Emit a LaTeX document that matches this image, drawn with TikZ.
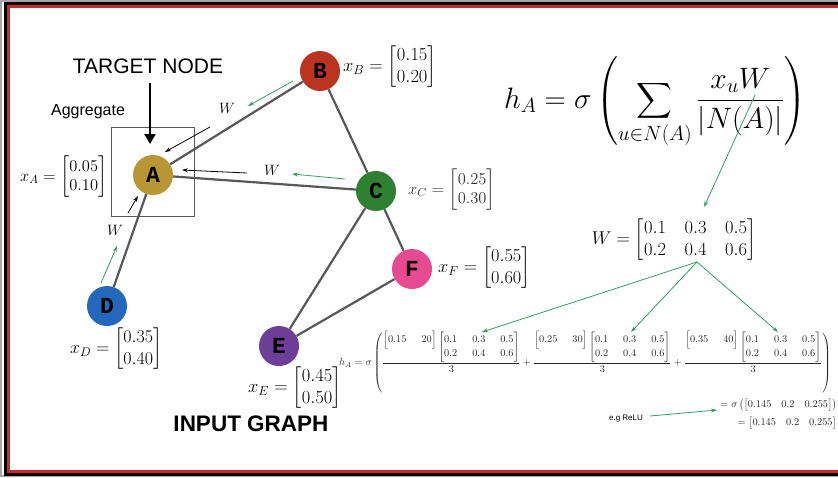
\IfFileExists{fix-cm.sty}{\RequirePackage{fix-cm}}{}
\documentclass[tikz,border=0pt]{standalone}
\usepackage{amsmath}
\usepackage{fontspec}
\newfontfamily\lsans{Liberation Sans}
\newfontfamily\lmono{Liberation Mono}
\usetikzlibrary{arrows.meta}
\definecolor{nA}{RGB}{184,150,52}
\definecolor{nB}{RGB}{186,52,32}
\definecolor{nC}{RGB}{48,128,52}
\definecolor{nD}{RGB}{36,104,190}
\definecolor{nE}{RGB}{108,62,152}
\definecolor{nF}{RGB}{232,74,146}
\definecolor{grn}{RGB}{52,160,100}
\definecolor{edg}{RGB}{88,88,88}
\definecolor{frred}{RGB}{205,40,40}
\begin{document}
\begin{tikzpicture}[x=1pt,y=-1pt,
  gnode/.style={circle,minimum size=40pt,inner sep=0pt,font=\lmono\bfseries\fontsize{23}{23}\selectfont},
  gedge/.style={draw=edg,line width=2.2pt},
  garrow/.style={draw=grn,line width=0.8pt,-{Stealth[length=6pt,width=4pt]}},
  barrow/.style={draw=black,line width=0.8pt,-{Stealth[length=6pt,width=4pt]}},
  lab/.style={inner sep=0pt,anchor=west},
  wlab/.style={inner sep=0pt,font=\fontsize{15}{18}\selectfont},
  eqsmall/.style={inner sep=0pt,text=black!85,font=\fontsize{10.3}{12.4}\selectfont},
]
\useasboundingbox (0,0) rectangle (838,477);
\fill[white] (0,0) rectangle (838,477);
% frame
\begin{scope}
\clip (0,0) rectangle (838,477);
\draw[black!35,line width=2pt] (1,1) rectangle (900,476);
\draw[black,line width=3pt] (5.5,3.5) rectangle (900,474.5);
\draw[frred,line width=2.5pt] (8.5,6.5) rectangle (900,471.5);
\end{scope}

% graph nodes
\node[gnode,fill=nA] (A) at (153,175) {A};
\node[gnode,fill=nB] (B) at (320,71) {B};
\node[gnode,fill=nC] (C) at (376,191) {C};
\node[gnode,fill=nD] (D) at (107,306) {D};
\node[gnode,fill=nE] (E) at (279,346) {E};
\node[gnode,fill=nF] (F) at (412,269) {F};

\draw[gedge] (A) -- (B);
\draw[gedge] (A) -- (C);
\draw[gedge] (A) -- (D);
\draw[gedge] (B) -- (C);
\draw[gedge] (C) -- (E);
\draw[gedge] (C) -- (F);
\draw[gedge] (E) -- (F);

% aggregate box
\node[draw=edg,line width=1pt,minimum width=83pt,minimum height=89pt,inner sep=0pt] (box) at (152.5,171.5) {};
\node[inner sep=0pt,font=\lsans\fontsize{16}{18}\selectfont] (agg) at (88,112) {Aggregate};
\node[inner sep=0pt,font=\lsans\fontsize{21}{24}\selectfont] (tn) at (148,66) {TARGET NODE};
\coordinate (tnS) at (150,83);
\coordinate (tnE) at (150,144);
\draw[black,line width=2.5pt,-{Triangle[length=10pt,width=11pt]}] (tnS) -- (tnE);

% black arrows into A
\coordinate (b1s) at (210,127); \coordinate (b1e) at (165,152);
\coordinate (b2s) at (247,173); \coordinate (b2e) at (182,170);
\coordinate (b3s) at (128,213); \coordinate (b3e) at (138,196);
\draw[barrow] (b1s) -- (b1e);
\draw[barrow] (b2s) -- (b2e);
\draw[barrow] (b3s) -- (b3e);
\node[wlab] (w1) at (227,108) {$W$};
\node[wlab] (w2) at (272,170) {$W$};
\node[wlab] (w3) at (115,230) {$W$};

% green arrows
\coordinate (g1s) at (293,81); \coordinate (g1e) at (248,106);
\coordinate (g2s) at (345,179); \coordinate (g2e) at (292,174);
\coordinate (g3s) at (101,283); \coordinate (g3e) at (117,246);
\draw[garrow] (g1s) -- (g1e);
\draw[garrow] (g2s) -- (g2e);
\draw[garrow] (g3s) -- (g3e);

% feature labels
\node[lab,font=\fontsize{16.5}{19.8}\selectfont] (xA) at (20,177) {$x_A = \begin{bmatrix}0.05\\0.10\end{bmatrix}$};
\node[lab,font=\fontsize{18.5}{22.2}\selectfont] (xB) at (343,67) {$x_B = \begin{bmatrix}0.15\\0.20\end{bmatrix}$};
\node[lab,text=black!80,font=\fontsize{16.5}{19.8}\selectfont] (xC) at (408,190) {$x_C = \begin{bmatrix}0.25\\0.30\end{bmatrix}$};
\node[lab,font=\fontsize{18.3}{22}\selectfont] (xF) at (438,268) {$x_F = \begin{bmatrix}0.55\\0.60\end{bmatrix}$};
\node[lab,font=\fontsize{18}{21.6}\selectfont] (xD) at (70,349) {$x_D = \begin{bmatrix}0.35\\0.40\end{bmatrix}$};
\node[lab,font=\fontsize{18.5}{22.2}\selectfont] (xE) at (248,388) {$x_E = \begin{bmatrix}0.45\\0.50\end{bmatrix}$};

\node[inner sep=0pt,font=\lsans\bfseries\fontsize{22.5}{26}\selectfont] (ig) at (251,424) {INPUT GRAPH};

% main formula
\node[inner sep=0pt,font=\fontsize{29.5}{35}\selectfont] (hA) at (655,102)
  {$\displaystyle h_A = \sigma\left(\sum_{u\in N(A)}\frac{x_uW}{|N(A)|}\right)$};
\node[inner sep=0pt,font=\fontsize{18.5}{22.2}\selectfont] (Wm) at (674,240)
  {\setlength{\arraycolsep}{0.5em}$W = \begin{bmatrix}0.1 & 0.3 & 0.5\\ 0.2 & 0.4 & 0.6\end{bmatrix}$};
\coordinate (fW) at (755,95);
\coordinate (WmT) at (704,207);
\draw[garrow] (fW) -- (WmT);

% bottom equation
\newcommand{\wmat}{\begin{bmatrix}0.1 & 0.3 & 0.5\\ 0.2 & 0.4 & 0.6\end{bmatrix}}
\newcommand{\rv}[2]{\raisebox{7pt}{$\begin{bmatrix}#1 & #2\end{bmatrix}$}}
\node[eqsmall,anchor=west] (eq1) at (339,362)
  {\setlength{\arraycolsep}{7.5pt}\renewcommand{\arraystretch}{1.15}$h_A = \sigma\left(\dfrac{\rv{0.15}{20}\wmat}{3} + \dfrac{\rv{0.25}{30}\wmat}{3} + \dfrac{\rv{0.35}{40}\wmat}{3}\right)$};
\node[eqsmall,anchor=east] (eq2) at (837,405)
  {$= \sigma\left(\begin{bmatrix}0.145 & 0.2 & 0.255\end{bmatrix}\right)$};
\node[eqsmall,anchor=east] (eq3) at (837,423)
  {$= \begin{bmatrix}0.145 & 0.2 & 0.255\end{bmatrix}$};

\coordinate (Wo) at (697,262);
\coordinate (t1) at (482,332);
\coordinate (t2) at (631,332);
\coordinate (t3) at (778,332);
\draw[garrow] (Wo) -- (t1);
\draw[garrow] (Wo) -- (t2);
\draw[garrow] (Wo) -- (t3);

\node[inner sep=0pt,font=\lsans\fontsize{8}{9}\selectfont] (relu) at (626,419) {e.g ReLU};
\coordinate (rs) at (650,416);
\coordinate (re) at (717,410);
\draw[garrow] (rs) -- (re);
\end{tikzpicture}
\end{document}
